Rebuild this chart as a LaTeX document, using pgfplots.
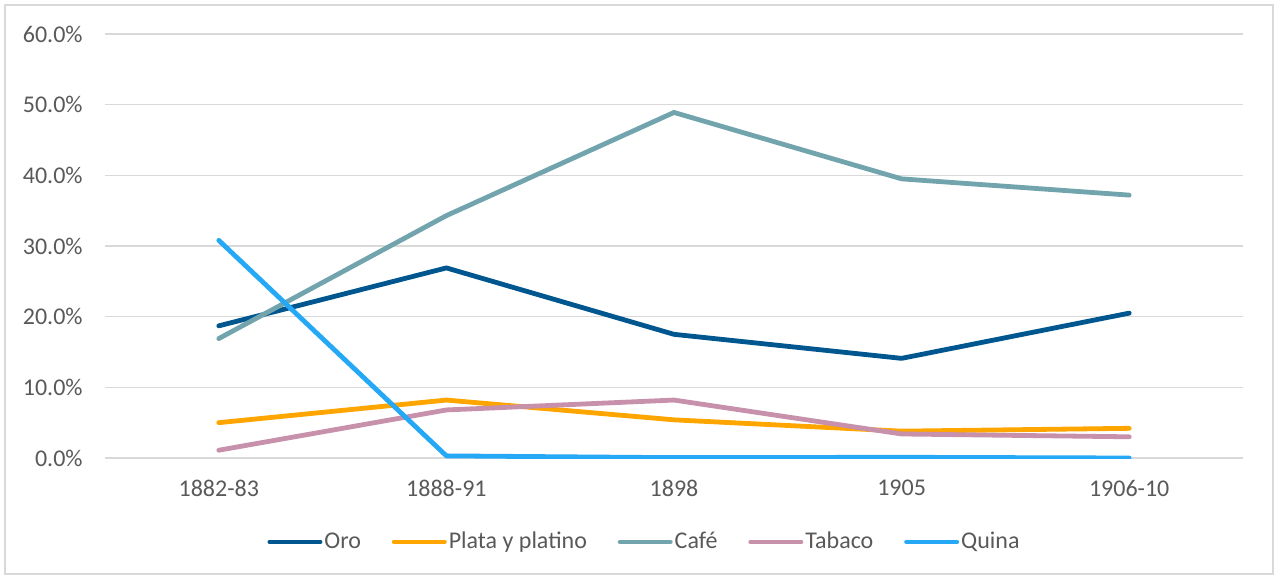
\documentclass[border=0pt]{standalone}
\usepackage{pgfplots}
\pgfplotsset{compat=1.18}
\usepackage{fontspec}
\setmainfont{Carlito}
\definecolor{cOro}{HTML}{00568F}
\definecolor{cPlata}{HTML}{FFA500}
\definecolor{cCafe}{HTML}{72A4AE}
\definecolor{cTabaco}{HTML}{C790AB}
\definecolor{cQuina}{HTML}{25A8F5}
\definecolor{cGrid}{HTML}{D9D9D9}
\definecolor{cText}{HTML}{595959}
\begin{document}
\begin{tikzpicture}
\useasboundingbox (0,0) rectangle (639.5pt,-288.5pt);
\draw[cGrid, line width=0.8pt] (2.5pt,-2.5pt) rectangle (636.5pt,-287pt);
\begin{axis}[
  at={(52.5pt,-229pt)}, anchor=south west,
  scale only axis, width=569pt, height=212pt,
  xmin=-0.5, xmax=4.5, ymin=0, ymax=60,
  axis line style={draw=none},
  xtick={0,1,2,3,4},
  xticklabels={1882-83,1888-91,1898,1905,1906-10},
  ytick={0,10,20,30,40,50,60},
  yticklabels={0.0\%,10.0\%,20.0\%,30.0\%,40.0\%,50.0\%,60.0\%},
  major tick length=0pt,
  ymajorgrids, grid style={cGrid, line width=0.75pt},
  tick label style={font=\fontsize{12pt}{14pt}\selectfont, text=cText},
  x tick label style={anchor=north, inner sep=0pt, yshift=-11pt},
  y tick label style={anchor=east, inner sep=0pt, xshift=-11pt},
  every axis plot/.append style={line width=2.4pt, line join=round, line cap=round},
  legend columns=5,
  legend cell align=left,
  legend style={at={(0.1424,-0.198)}, anchor=west, draw=none, fill=none,
    inner sep=0pt, font=\fontsize{12pt}{14pt}\selectfont, text=cText,
    nodes={inner xsep=1pt, inner ysep=0pt},
    /tikz/every even column/.append style={column sep=14.4pt}},
  legend image code/.code={\draw[#1, line width=2.4pt, line cap=round] (1.2pt,0pt) -- (26.3pt,0pt);},
]
\addplot[cOro] coordinates {(0,18.7) (1,26.9) (2,17.5) (3,14.1) (4,20.5)};
\addlegendentry{Oro}
\addplot[cPlata] coordinates {(0,5.0) (1,8.2) (2,5.4) (3,3.8) (4,4.2)};
\addlegendentry{Plata y platino}
\addplot[cCafe] coordinates {(0,16.9) (1,34.3) (2,48.9) (3,39.5) (4,37.2)};
\addlegendentry{Café}
\addplot[cTabaco] coordinates {(0,1.1) (1,6.8) (2,8.2) (3,3.4) (4,3.0)};
\addlegendentry{Tabaco}
\addplot[cQuina] coordinates {(0,30.8) (1,0.3) (2,0.05) (3,0.1) (4,0.0)};
\addlegendentry{Quina}
\end{axis}
\end{tikzpicture}
\end{document}
